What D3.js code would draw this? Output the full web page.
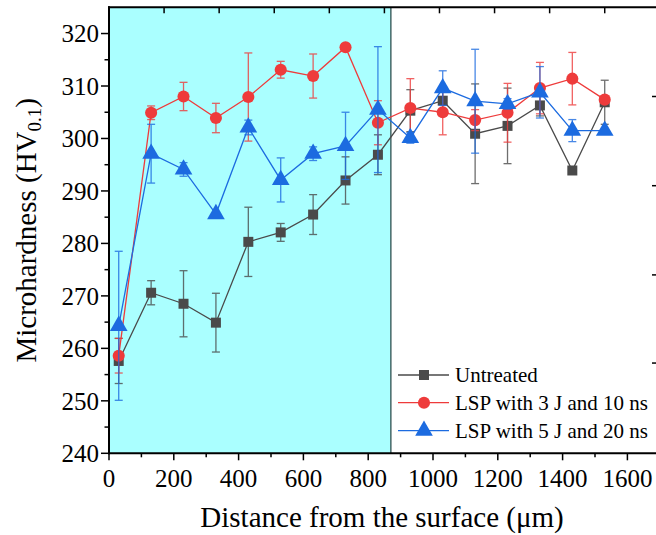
<!DOCTYPE html>
<html><head><meta charset="utf-8">
<script src="https://cdn.jsdelivr.net/npm/d3@7"></script>
<style>
html,body{margin:0;padding:0;background:#fff;}
</style></head>
<body><svg id="chart" width="656" height="535"></svg>
<script>
// ---- data ----
const distances = [30,130,230,330,430,530,630,730,830,930,1030,1130,1230,1330,1430,1530];
const untreated    = [257.6,270.6,268.5,264.9,280.3,282.1,285.5,292.0,296.9,305.3,307.2,300.9,302.4,306.3,293.9,306.9];
const untreatedErr = [4.3,2.3,6.3,5.6,6.6,1.7,3.8,4.5,3.8,4.0,2.5,9.5,7.2,2.0,0,4.2];
const lsp3J    = [258.6,304.9,308.0,303.9,307.9,313.1,311.9,317.4,303.0,305.8,305.0,303.5,304.9,309.6,311.4,307.4];
const lsp3JErr = [3.3,1.3,2.7,2.8,8.4,1.6,4.2,0,4.2,5.6,4.3,2.0,5.6,4.9,5.0,0];
const lsp5J    = [264.3,297.1,294.1,285.6,302.1,292.1,297.1,298.6,305.5,300.1,309.6,307.1,306.6,308.8,301.5,301.5];
const lsp5JErr = [14.2,5.6,1.3,0,1.4,4.2,1.3,6.4,12.0,1.0,3.3,9.9,1.0,4.9,2.1,0];
const seriesNames = ["Untreated","LSP with 3 J and 10 ns","LSP with 5 J and 20 ns"];
const xTicks = [0,200,400,600,800,1000,1200,1400,1600];
const yTicks = [240,250,260,270,280,290,300,310,320];
const shadedRange = [0,870];
const topAxisTicks = [170,340,510,680,850,1020,1190,1360,1530];
const neighbourTicks = [308,291,274,257.2];

const colors = ["#4a4a4a","#ee3b3b","#1c6be0"];
const shapes = [d3.symbolSquare, d3.symbolCircle, d3.symbolTriangle];
const symSizes = [100, 115, 135];
const FONT = '"Liberation Serif", "Times New Roman", serif';

const svg = d3.select("#chart");
const x = d3.scaleLinear().domain([0,1700]).range([109,659.8]);
const y = d3.scaleLinear().domain([240,325]).range([453.3,7.3]);
const pL = x(0), pT = y(325), pB = y(240);

svg.append("rect").attr("x",x(shadedRange[0])).attr("y",pT)
  .attr("width",x(shadedRange[1])-x(shadedRange[0])).attr("height",pB-pT)
  .attr("fill","#aaffff");
svg.append("line").attr("x1",x(shadedRange[1])).attr("x2",x(shadedRange[1]))
  .attr("y1",pT).attr("y2",pB).attr("stroke","#2f4f4f").attr("stroke-width",1.3);

const series = [
  {name:seriesNames[0], v:untreated, e:untreatedErr},
  {name:seriesNames[1], v:lsp3J, e:lsp3JErr},
  {name:seriesNames[2], v:lsp5J, e:lsp5JErr}
];

const g = svg.append("g");
series.forEach((s,i)=>{
  const pts = distances.map((d,j)=>({d, v:s.v[j], e:s.e[j]}));
  const sg = g.append("g");
  sg.append("path").datum(pts)
    .attr("d", d3.line().x(p=>x(p.d)).y(p=>y(p.v)))
    .attr("fill","none").attr("stroke",colors[i]).attr("stroke-width",1.3);
  const eb = sg.selectAll("g.eb").data(pts.filter(p=>p.e>0)).enter().append("g")
    .attr("stroke",colors[i]).attr("stroke-width",1.3).attr("opacity",0.8);
  eb.append("line").attr("x1",p=>x(p.d)).attr("x2",p=>x(p.d))
    .attr("y1",p=>y(p.v+p.e)).attr("y2",p=>y(p.v-p.e));
  eb.append("line").attr("x1",p=>x(p.d)-4).attr("x2",p=>x(p.d)+4)
    .attr("y1",p=>y(p.v+p.e)).attr("y2",p=>y(p.v+p.e));
  eb.append("line").attr("x1",p=>x(p.d)-4).attr("x2",p=>x(p.d)+4)
    .attr("y1",p=>y(p.v-p.e)).attr("y2",p=>y(p.v-p.e));
  sg.selectAll("path.m").data(pts).enter().append("path")
    .attr("transform",p=>`translate(${x(p.d)},${y(p.v)})`)
    .attr("d", d3.symbol().type(shapes[i]).size(symSizes[i]))
    .attr("fill",colors[i]);
});

const axisG = svg.append("g");
const yMinor = d3.range(245,325,10);
axisG.selectAll("line.ymaj").data(yTicks).enter().append("line")
  .attr("x1",pL-8).attr("x2",pL).attr("y1",d=>y(d)).attr("y2",d=>y(d))
  .attr("stroke","#000").attr("stroke-width",1.5);
axisG.selectAll("line.ymin").data(yMinor).enter().append("line")
  .attr("x1",pL-4.5).attr("x2",pL).attr("y1",d=>y(d)).attr("y2",d=>y(d))
  .attr("stroke","#000").attr("stroke-width",1.5);
axisG.selectAll("text.yl").data(yTicks).enter().append("text")
  .style("font-family",FONT)
  .attr("x",pL-10).attr("y",d=>y(d)).attr("dy","0.35em")
  .attr("text-anchor","end").attr("font-size",25).text(d=>d);
const xMinor = d3.range(100,1700,200);
axisG.selectAll("line.xmaj").data(xTicks).enter().append("line")
  .attr("x1",d=>x(d)).attr("x2",d=>x(d)).attr("y1",pB).attr("y2",pB+7)
  .attr("stroke","#000").attr("stroke-width",1.5);
axisG.selectAll("line.xmin").data(xMinor).enter().append("line")
  .attr("x1",d=>x(d)).attr("x2",d=>x(d)).attr("y1",pB).attr("y2",pB+4)
  .attr("stroke","#000").attr("stroke-width",1.5);
axisG.selectAll("text.xl").data(xTicks).enter().append("text")
  .style("font-family",FONT)
  .attr("x",d=>x(d)).attr("y",pB+34)
  .attr("text-anchor","middle").attr("font-size",25).text(d=>d);
axisG.selectAll("line.tt").data(topAxisTicks).enter().append("line")
  .attr("x1",d=>x(d)).attr("x2",d=>x(d)).attr("y1",pT).attr("y2",pT+6)
  .attr("stroke","#000").attr("stroke-width",1.5);
axisG.selectAll("line.nt").data(neighbourTicks).enter().append("line")
  .attr("x1",652).attr("x2",656).attr("y1",d=>y(d)).attr("y2",d=>y(d))
  .attr("stroke","#000").attr("stroke-width",1.5);
axisG.append("line").attr("x1",pL).attr("x2",pL).attr("y1",pT-1).attr("y2",pB+1)
  .attr("stroke","#000").attr("stroke-width",2);
axisG.append("line").attr("x1",pL-1).attr("x2",656).attr("y1",pB).attr("y2",pB)
  .attr("stroke","#000").attr("stroke-width",2);
axisG.append("line").attr("x1",pL-1).attr("x2",656).attr("y1",pT).attr("y2",pT)
  .attr("stroke","#000").attr("stroke-width",2);

svg.append("text").style("font-family",FONT).attr("x",382).attr("y",527).attr("text-anchor","middle")
  .attr("font-size",29).text("Distance from the surface (μm)");
const yt = svg.append("text").style("font-family",FONT)
  .attr("transform",`translate(36,${(pT+pB)/2}) rotate(-90)`)
  .attr("text-anchor","middle").attr("font-size",29);
yt.append("tspan").text("Microhardness (HV");
yt.append("tspan").attr("font-size",19).attr("dy",5).text("0.1");
yt.append("tspan").attr("dy",-5).text(")");

const lg = svg.append("g");
const legendY = [375,402.7,430.7];
series.forEach((s,i)=>{
  lg.append("line").attr("x1",398).attr("x2",449).attr("y1",legendY[i]).attr("y2",legendY[i])
    .attr("stroke",colors[i]).attr("stroke-width",1.3);
  lg.append("path").attr("transform",`translate(424,${legendY[i]})`)
    .attr("d",d3.symbol().type(shapes[i]).size(symSizes[i])).attr("fill",colors[i]);
  lg.append("text").style("font-family",FONT).attr("x",455).attr("y",legendY[i]).attr("dy","0.33em")
    .attr("font-size",21).text(s.name);
});
</script></body></html>
